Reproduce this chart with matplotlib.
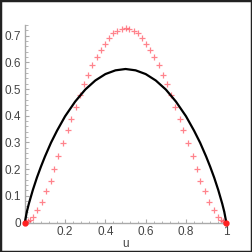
import matplotlib
matplotlib.use("Agg")
import matplotlib.pyplot as plt
from matplotlib.patches import Rectangle
from matplotlib.ticker import MultipleLocator, FuncFormatter

plt.rcParams['font.family'] = ['Liberation Sans', 'DejaVu Sans']

# black curve
curve_u = [0, 0.01, 0.02, 0.04, 0.06, 0.08, 0.10, 0.13, 0.16, 0.20, 0.25, 0.30, 0.35, 0.40, 0.45, 0.50,
           0.55, 0.60, 0.65, 0.70, 0.75, 0.80, 0.84, 0.87, 0.90, 0.92, 0.94, 0.96, 0.98, 0.99, 1.0]
curve_y = [0, 0.040, 0.070, 0.122, 0.168, 0.209, 0.247, 0.299, 0.344, 0.398, 0.453, 0.498, 0.532, 0.556, 0.570, 0.575,
           0.570, 0.556, 0.532, 0.498, 0.453, 0.398, 0.344, 0.299, 0.247, 0.209, 0.168, 0.122, 0.070, 0.040, 0]

# red + markers
pts_u = [0.006, 0.014, 0.026, 0.042, 0.062, 0.084, 0.107, 0.129, 0.146, 0.166, 0.188, 0.213, 0.229,
         0.254, 0.272, 0.294, 0.315, 0.335, 0.357, 0.377, 0.398, 0.418, 0.439, 0.459, 0.481, 0.500,
         0.519, 0.541, 0.561, 0.582, 0.602, 0.623, 0.643, 0.665, 0.685, 0.706, 0.728, 0.746, 0.771,
         0.787, 0.812, 0.834, 0.854, 0.871, 0.893, 0.916, 0.938, 0.958, 0.974, 0.986, 0.994]
pts_y = [0.002, 0.005, 0.009, 0.021, 0.046, 0.078, 0.117, 0.157, 0.200, 0.248, 0.296, 0.345, 0.389,
         0.432, 0.476, 0.519, 0.553, 0.590, 0.620, 0.648, 0.670, 0.691, 0.708, 0.719, 0.726, 0.727,
         0.726, 0.719, 0.708, 0.691, 0.670, 0.648, 0.620, 0.590, 0.553, 0.519, 0.476, 0.432, 0.389,
         0.345, 0.296, 0.248, 0.200, 0.157, 0.117, 0.078, 0.046, 0.021, 0.009, 0.005, 0.002]

end_u = [0, 1]
end_y = [0, 0]

fig = plt.figure(figsize=(2.52, 2.52), dpi=100)
ax = fig.add_axes([0.0984, 0.117, 0.7996, 0.784])

ax.plot(pts_u, pts_y, linestyle="none", marker="+", color="#ff3040", alpha=0.6,
        markersize=5, markeredgewidth=0.9, clip_on=False)
ax.plot(curve_u, curve_y, color="black", linewidth=1.6, clip_on=False, zorder=3)
ax.plot(end_u, end_y, linestyle="none", marker="o", color="#ff2020", markersize=3.5,
        clip_on=False, zorder=4)

ax.set_xlim(0, 1)
ax.set_ylim(0, 0.74)
for s in ["top", "right"]:
    ax.spines[s].set_visible(False)
for s in ["left", "bottom"]:
    ax.spines[s].set_color("#aaaaaa")
    ax.spines[s].set_linewidth(1.0)

def fmt_x(v, pos):
    if abs(v) < 1e-9:
        return ""
    if abs(v - 1) < 1e-9:
        return "1"
    return f"{v:.1f}"

def fmt_y(v, pos):
    if abs(v) < 1e-9:
        return "0"
    return f"{v:.1f}"

ax.xaxis.set_major_locator(MultipleLocator(0.2))
ax.xaxis.set_minor_locator(MultipleLocator(0.04))
ax.yaxis.set_major_locator(MultipleLocator(0.1))
ax.yaxis.set_minor_locator(MultipleLocator(0.02))
ax.xaxis.set_major_formatter(FuncFormatter(fmt_x))
ax.yaxis.set_major_formatter(FuncFormatter(fmt_y))
ax.tick_params(which="major", direction="in", length=3, width=0.8, color="#aaaaaa",
               labelsize=8.5, labelcolor="#444444", pad=3)
ax.tick_params(axis="x", which="major", pad=2.5)
ax.tick_params(which="minor", direction="in", length=1.8, width=0.6, color="#aaaaaa")
ax.set_xlabel("u", fontsize=8.5, color="#444444", labelpad=0)

fig.patches.append(Rectangle((0, 0), 1, 1, transform=fig.transFigure, fill=False,
                             edgecolor="#222222", linewidth=2.5))

fig.savefig("out.png", dpi=100)
